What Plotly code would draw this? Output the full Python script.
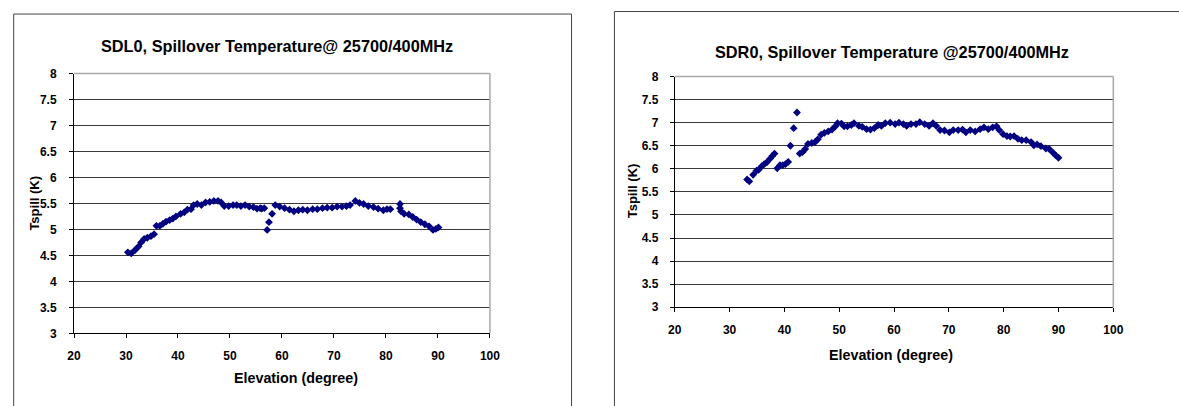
import plotly.graph_objects as go

W, H = 1179, 406

# ---------------- data ----------------
left_title = "SDL0, Spillover Temperature@ 25700/400MHz"
right_title = "SDR0, Spillover Temperature @25700/400MHz"
x_title = "Elevation (degree)"
y_title = "Tspill (K)"

x_ticks = [20, 30, 40, 50, 60, 70, 80, 90, 100]
y_ticks = [3, 3.5, 4, 4.5, 5, 5.5, 6, 6.5, 7, 7.5, 8]
y_tick_text = ["3", "3.5", "4", "4.5", "5", "5.5", "6", "6.5", "7", "7.5", "8"]

sdl0_elev = [30.35, 31.0, 31.7, 32.4, 32.9, 33.5, 34.1, 34.8, 35.4, 35.85, 36.5, 37.1, 37.7,
             38.4, 39.0, 39.6, 40.5, 41.2, 41.8, 42.5, 43.0, 43.7, 44.5, 45.3, 46.1, 46.9,
             47.7, 48.3, 48.9, 49.75, 50.6, 51.3, 52.1, 52.9, 53.7, 54.5, 55.2, 55.8, 56.1,
             56.6, 57.15, 57.5, 58.1, 58.7, 59.55, 60.5, 61.45, 62.3, 63.15, 64.0, 64.9,
             65.9, 66.8, 67.8, 68.7, 69.65, 70.6, 71.55, 72.4, 73.1, 74.1, 74.9, 75.7, 76.6,
             77.6, 78.5, 79.5, 80.2, 80.85, 82.7, 82.7, 82.9, 83.5, 84.4, 85.15, 85.9, 86.7,
             87.5, 88.3, 89.05, 89.6, 90.1]
sdl0_tspill = [4.56, 4.54, 4.60, 4.67, 4.75, 4.82, 4.84, 4.87, 4.91, 5.07, 5.07, 5.11, 5.15,
               5.18, 5.21, 5.25, 5.30, 5.33, 5.38, 5.39, 5.47, 5.49, 5.47, 5.52, 5.53, 5.55,
               5.55, 5.52, 5.45, 5.45, 5.47, 5.47, 5.45, 5.47, 5.44, 5.43, 5.40, 5.41, 5.40,
               5.41, 4.99, 5.14, 5.30, 5.47, 5.44, 5.41, 5.38, 5.35, 5.37, 5.38, 5.37,
               5.39, 5.39, 5.41, 5.42, 5.42, 5.44, 5.44, 5.45, 5.47, 5.55, 5.51, 5.49, 5.45,
               5.43, 5.40, 5.37, 5.39, 5.39, 5.49, 5.41, 5.35, 5.30, 5.29, 5.24, 5.19, 5.14,
               5.10, 5.06, 4.99, 5.01, 5.04]

sdr0_elev = [33.2, 33.6, 34.3, 34.9, 35.3, 35.9, 36.3, 36.8, 37.4, 37.8, 38.2, 38.7, 39.2,
             39.7, 40.2, 40.7, 41.1, 41.7, 42.3, 42.8, 43.3, 43.8, 44.3, 45.0, 45.6, 46.1,
             46.7, 47.3, 48.0, 48.7, 49.3, 49.7, 50.4, 50.9, 51.5, 52.2, 52.7, 53.6, 54.2,
             55.0, 55.7, 56.4, 57.1, 57.7, 58.4, 59.3, 60.2, 60.9, 61.7, 62.3, 63.1, 64.0,
             64.7, 65.6, 66.4, 67.1, 67.7, 68.4, 69.2, 70.1, 70.8, 71.7, 72.5, 73.1, 73.9,
             74.8, 75.7, 76.4, 77.2, 78.0, 78.7, 79.2, 79.9, 80.6, 81.2, 81.9, 82.6, 83.3,
             84.1, 85.0, 85.5, 86.1, 86.8, 87.7, 88.3, 89.0, 89.5, 90.0]
sdr0_tspill = [5.77, 5.73, 5.87, 5.96, 5.98, 6.06, 6.10, 6.14, 6.22, 6.28, 6.33, 6.01, 6.08,
               6.08, 6.10, 6.15, 6.50, 6.88, 7.22, 6.33, 6.36, 6.43, 6.54, 6.56, 6.58, 6.64,
               6.74, 6.78, 6.81, 6.85, 6.92, 6.99, 6.98, 6.92, 6.92, 6.95, 6.99, 6.93, 6.91,
               6.86, 6.85, 6.88, 6.95, 6.93, 6.99, 7.00, 6.97, 7.00, 6.97, 6.93, 6.97, 6.97,
               7.01, 6.97, 6.93, 6.99, 6.93, 6.84, 6.83, 6.79, 6.84, 6.84, 6.85, 6.79, 6.84,
               6.81, 6.86, 6.90, 6.86, 6.90, 6.92, 6.84, 6.75, 6.71, 6.70, 6.71, 6.65, 6.62,
               6.62, 6.58, 6.51, 6.53, 6.49, 6.44, 6.43, 6.35, 6.29, 6.24]

# ---------------- layout helpers ----------------
def px(x):
    return x / W

def py(y):
    return 1 - y / H

FONT = "Liberation Sans, Arial, sans-serif"
MARK = "#000080"

fig = go.Figure()
fig.add_trace(go.Scatter(x=sdl0_elev, y=sdl0_tspill, mode="markers", xaxis="x", yaxis="y",
                         marker=dict(symbol="diamond", size=6, color=MARK, line=dict(width=0)),
                         showlegend=False))
fig.add_trace(go.Scatter(x=sdr0_elev, y=sdr0_tspill, mode="markers", xaxis="x2", yaxis="y2",
                         marker=dict(symbol="diamond", size=6, color=MARK, line=dict(width=0)),
                         showlegend=False))

# plot-area pixel boxes
L = dict(x0=68, x1=490, y0=69, y1=338)
R = dict(x0=677.5, x1=1122.5, y0=72, y1=311)

TICK_SIZE = 12

def xaxis(box, standoff):
    return dict(domain=[px(box["x0"]), px(box["x1"])], range=[20, 100], tickvals=x_ticks,
                showgrid=False, zeroline=False, showline=True, linecolor="black", linewidth=1,
                ticks="outside", ticklen=4, tickcolor="black", tickwidth=1,
                ticklabelstandoff=standoff,
                tickfont=dict(family=FONT, size=TICK_SIZE, color="black", weight="bold"),
                fixedrange=True)

def yaxis(box, standoff):
    return dict(domain=[py(box["y1"]), py(box["y0"])], range=[3, 8], tickvals=y_ticks,
                ticktext=y_tick_text,
                showgrid=True, gridcolor="#3a3a3a", gridwidth=1, zeroline=False,
                showline=True, linecolor="black", linewidth=1,
                ticks="outside", ticklen=4, tickcolor="black", tickwidth=1,
                ticklabelstandoff=standoff,
                tickfont=dict(family=FONT, size=TICK_SIZE, color="black", weight="bold"),
                fixedrange=True)

xa1 = xaxis(L, 7); xa1["anchor"] = "y"
ya1 = yaxis(L, 10); ya1["anchor"] = "x"
xa2 = xaxis(R, 7); xa2["anchor"] = "y2"
ya2 = yaxis(R, 9); ya2["anchor"] = "x2"

shapes = [
    # outer panel borders
    dict(type="rect", xref="paper", yref="paper", x0=px(6.8), x1=px(572.8), y0=-0.05, y1=py(7.3),
         line=dict(color="#444444", width=1), fillcolor="rgba(0,0,0,0)", layer="below"),
    dict(type="rect", xref="paper", yref="paper", x0=px(616.3), x1=1.05, y0=-0.05, y1=py(4.7),
         line=dict(color="#444444", width=1), fillcolor="rgba(0,0,0,0)", layer="below"),
]
# gray top/right frame of plot areas
for b in (L, R):
    shapes.append(dict(type="line", xref="paper", yref="paper", x0=px(b["x0"]), x1=px(b["x1"]),
                       y0=py(b["y0"]), y1=py(b["y0"]), line=dict(color="#a8a8a8", width=1.5)))
    shapes.append(dict(type="line", xref="paper", yref="paper", x0=px(b["x1"]), x1=px(b["x1"]),
                       y0=py(b["y0"]), y1=py(b["y1"]), line=dict(color="#a8a8a8", width=1.5)))

def ann(text, x, y, size, angle=0):
    return dict(text=text, x=px(x), y=py(y), xref="paper", yref="paper", showarrow=False,
                xanchor="center", yanchor="middle", textangle=angle,
                font=dict(family=FONT, size=size, color="black", weight="bold"))

annotations = [
    ann(left_title, 273.6, 40, 16.3),
    ann(right_title, 898, 47, 16.3),
    ann(x_title, 293.6, 384, 14.3),
    ann(x_title, 897, 360, 14.3),
    ann(y_title, 27, 203, 13, -90),
    ann(y_title, 635, 190, 13, -90),
]

fig.update_layout(width=W, height=H, margin=dict(l=0, r=0, t=0, b=0),
                  paper_bgcolor="white", plot_bgcolor="white",
                  xaxis=xa1, yaxis=ya1, xaxis2=xa2, yaxis2=ya2,
                  shapes=shapes, annotations=annotations, showlegend=False)

fig.write_html("out.html", config={"displayModeBar": False})
